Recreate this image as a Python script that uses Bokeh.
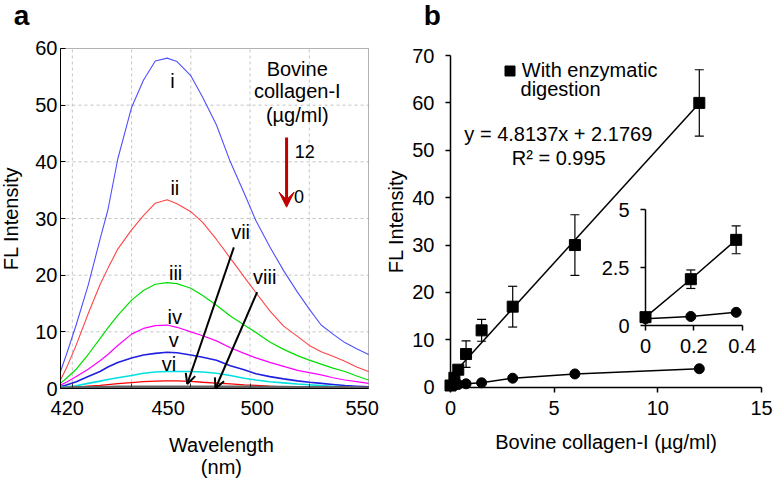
from bokeh.plotting import figure
from bokeh.layouts import row
from bokeh.models import (Range1d, FixedTicker, LinearAxis, Label, Arrow, OpenHead, VeeHead,
                          Whisker, TeeHead, ColumnDataSource, Legend, LegendItem, BoxAnnotation)
from bokeh.core.properties import value
from bokeh.embed import file_html
from bokeh.resources import INLINE

FONT = "Liberation Sans"

# ---------------- Panel a data (fluorescence spectra) ----------------
wavelength_nm = [394, 397, 402, 408, 414, 418, 423, 430, 436, 442, 448, 453, 460, 466,
                 473, 480, 487, 493, 500, 507, 514, 520, 526, 532, 538, 544, 550]
spectrum_i = [3.0, 6.0, 11.3, 18.2, 26.3, 31.5, 40.5, 49.6, 54.4, 57.8, 58.3, 57.7, 55.2, 51.4,
              46.5, 40.0, 34.5, 29.6, 25.0, 20.8, 17.0, 14.0, 11.2, 9.6, 8.1, 7.0, 6.0]
spectrum_ii = [1.5, 3.6, 7.7, 13.2, 18.3, 21.2, 24.6, 28.0, 30.5, 32.7, 33.3, 32.6, 31.2, 29.3,
               26.3, 23.0, 19.7, 16.9, 13.7, 11.0, 9.2, 7.6, 6.5, 5.7, 4.8, 3.8, 3.0]
spectrum_iii = [0.9, 1.8, 3.4, 6.0, 8.8, 10.7, 12.9, 15.6, 17.3, 18.4, 18.7, 18.5, 17.7, 16.4,
                14.7, 12.8, 11.2, 9.9, 8.2, 6.9, 5.8, 5.0, 4.3, 3.6, 3.0, 2.2, 1.5]
spectrum_iv = [0.6, 1.1, 2.1, 3.4, 4.9, 6.0, 7.6, 9.6, 10.6, 11.1, 11.2, 10.8, 10.0, 9.3,
               8.4, 7.2, 6.2, 5.4, 4.6, 3.9, 3.2, 2.8, 2.4, 1.9, 1.5, 1.2, 0.9]
spectrum_v = [0.3, 0.6, 1.2, 2.1, 3.0, 3.8, 4.6, 5.4, 5.9, 6.2, 6.4, 6.3, 5.9, 5.5,
              5.0, 4.0, 3.3, 2.6, 2.1, 1.7, 1.35, 1.1, 0.9, 0.7, 0.5, 0.4, 0.3]
spectrum_vi = [0.2, 0.3, 0.5, 0.9, 1.3, 1.6, 1.9, 2.3, 2.7, 2.9, 3.0, 3.0, 3.0, 2.9,
               2.7, 2.3, 1.8, 1.5, 1.2, 1.0, 0.8, 0.65, 0.5, 0.4, 0.3, 0.2, 0.1]
spectrum_vii = [0.1, 0.15, 0.25, 0.4, 0.55, 0.7, 0.85, 1.05, 1.2, 1.3, 1.35, 1.35, 1.25, 1.1,
                0.95, 0.8, 0.65, 0.55, 0.4, 0.3, 0.2, 0.2, 0.2, 0.2, 0.2, 0.2, 0.2]
spectrum_viii = [0.15, 0.15, 0.2, 0.2, 0.25, 0.25, 0.3, 0.3, 0.3, 0.3, 0.3, 0.3, 0.3, 0.3,
                 0.3, 0.3, 0.3, 0.25, 0.25, 0.25, 0.2, 0.2, 0.2, 0.2, 0.2, 0.15, 0.15]
spectra = [spectrum_i, spectrum_ii, spectrum_iii, spectrum_iv,
           spectrum_v, spectrum_vi, spectrum_vii, spectrum_viii]
spectrum_names = ["i", "ii", "iii", "iv", "v", "vi", "vii", "viii"]
wavelength_tick_labels = ["420", "450", "500", "550"]
intensity_ticks_a = [0, 10, 20, 30, 40, 50, 60]
concentration_range_labels = ["12", "0"]

# ---------------- Panel b data (calibration) ----------------
collagen_conc = [0, 0.1875, 0.375, 0.75, 1.5, 3, 6, 12]
fl_with_digestion = [0.36, 2.0, 3.7, 7.0, 12.0, 17.0, 30.0, 60.0]
fl_with_digestion_err = [0.1, 0.4, 0.6, 2.8, 2.3, 4.3, 6.4, 7.0]
fl_without_digestion = [0.29, 0.39, 0.57, 0.72, 0.93, 1.9, 2.8, 3.9]
fit_slope = 4.8137
fit_intercept = 2.1769
fit_r2 = 0.995
inset_points = 3
conc_ticks_b = [0, 5, 10, 15]
intensity_ticks_b = [0, 10, 20, 30, 40, 50, 60, 70]
inset_x_ticks = [0, 0.2, 0.4]
inset_y_ticks = [0, 2.5, 5]

# ---------------- styles / layout positions ----------------
spec_colors = ["#5050ff", "#ff4545", "#00dd00", "#ff00ff", "#2020e0", "#00e0e0", "#ff0000", "#606060"]
spec_widths = [1.1, 1.1, 1.2, 1.2, 1.6, 1.6, 1.3, 2.5]
tick_pos_a = [397.4, 448.5, 493.6, 546.8]
grid_pos_a = [400, 430, 460, 490, 520]
grid_val_a = [10, 20, 30, 40, 50]
num_label_pos = [(450.7, 52.7), (451.9, 33.9), (452.3, 18.9), (451.9, 11.2),
                 (451.4, 7.1), (448.9, 2.9), (485.2, 26.1), (497.4, 18.2)]
TXT = 20
XA0, XA1, YA0, YA1 = 394, 550, 0, 60   # panel a plot box (data units)
PPU_A = 5.6667   # px per intensity unit, panel a
PPU_B = 4.7386   # px per intensity unit, panel b


def txt_label(p, ppu, x, y, text, align="left", size=TXT, bold=False, **kw):
    # y is the text baseline; compensate Bokeh's baseline placement
    yy = y + 0.42 * size / ppu
    p.add_layout(Label(x=x, y=yy, text=text, text_font=FONT, text_font_size=f"{size}px",
                       text_font_style="bold" if bold else "normal", text_align=align,
                       text_baseline="alphabetic", text_color="black", **kw))


def style_axis(ax, standoff, tick_out=5, tick_in=0):
    ax.major_tick_in = tick_in
    ax.major_tick_out = tick_out
    ax.minor_tick_line_color = None
    ax.major_label_standoff = standoff
    ax.major_label_text_font = FONT
    ax.major_label_text_font_size = f"{TXT}px"
    ax.major_label_text_color = "black"
    ax.axis_line_color = "black"
    ax.axis_label_text_font = FONT
    ax.axis_label_text_font_size = f"{TXT}px"
    ax.axis_label_text_font_style = "normal"
    ax.axis_label_text_color = "black"


# ================= Panel a =================
pa = figure(width=386, height=484, output_backend="svg", toolbar_location=None,
            x_range=Range1d(363.61, 559.11), y_range=Range1d(-16.94, 68.47),
            min_border=0)
pa.outline_line_color = None
pa.xgrid.visible = False
pa.ygrid.visible = False

# dashed grid inside the plot box
pa.segment(x0=grid_pos_a, y0=[YA0] * len(grid_pos_a), x1=grid_pos_a, y1=[YA1] * len(grid_pos_a),
           line_color="#c4c4c4", line_dash="3 3", line_width=1)
pa.segment(x0=[XA0] * len(grid_val_a), y0=grid_val_a, x1=[XA1] * len(grid_val_a), y1=grid_val_a,
           line_color="#c4c4c4", line_dash="3 3", line_width=1)

for ys, c, w in zip(spectra, spec_colors, spec_widths):
    pa.line(wavelength_nm, ys, line_color=c, line_width=w)

pa.add_layout(BoxAnnotation(left=XA0, right=XA1, bottom=YA0, top=YA1, fill_alpha=0,
                            line_color="black", line_width=1))

xa = pa.xaxis[0]
xa.fixed_location = YA0
xa.bounds = (XA0, XA1)
xa.ticker = FixedTicker(ticks=tick_pos_a)
xa.major_label_overrides = {p: l for p, l in zip(tick_pos_a, wavelength_tick_labels)}
style_axis(xa, 12, tick_out=0)
xa.major_tick_line_color = None

tick_axis = LinearAxis(fixed_location=YA0, bounds=(XA0, XA1), ticker=FixedTicker(ticks=grid_pos_a),
                       major_tick_in=5, major_tick_out=0, major_tick_line_color="#333333",
                       minor_tick_line_color=None, axis_line_color=None,
                       major_label_text_color=None)
pa.add_layout(tick_axis, "below")

ya = pa.yaxis[0]
ya.fixed_location = XA0
ya.bounds = (YA0, YA1)
ya.ticker = FixedTicker(ticks=intensity_ticks_a)
style_axis(ya, 3, tick_out=0, tick_in=5)
ya.axis_label = "FL Intensity"
ya.axis_label_standoff = 10

for name, (lx, ly) in zip(spectrum_names, num_label_pos):
    txt_label(pa, PPU_A, lx, ly, name, align="center")

pa.add_layout(Arrow(x_start=481.8, y_start=24.9, x_end=458.2, y_end=0.8, line_color="black",
                    line_width=2, end=OpenHead(size=10, line_color="black", line_width=2)))
pa.add_layout(Arrow(x_start=493.6, y_start=17.0, x_end=472.5, y_end=0.0, line_color="black",
                    line_width=2, end=OpenHead(size=10, line_color="black", line_width=2)))

for t, yy in zip(["Bovine", "collagen-I", "(µg/ml)"], [54.9, 51.0, 46.8]):
    txt_label(pa, PPU_A, 513.9, yy, t, align="center")
pa.add_layout(Arrow(x_start=508.5, y_start=44.3, x_end=508.5, y_end=32.0, line_color="#c00000",
                    line_width=3, end=VeeHead(size=15, fill_color="#c00000", line_color="#c00000")))
txt_label(pa, PPU_A, 512.6, 40.5, concentration_range_labels[0], size=18)
txt_label(pa, PPU_A, 512.3, 32.5, concentration_range_labels[1], size=18)

txt_label(pa, PPU_A, 475.5, -11.5, "Wavelength", align="center")
txt_label(pa, PPU_A, 475.5, -15.3, "(nm)", align="center")
txt_label(pa, PPU_A, 370.3, 63.8, "a", size=28, bold=True)

# ================= Panel b =================
pb = figure(width=388, height=484, output_backend="svg", toolbar_location=None,
            x_range=Range1d(-3.087, 15.627), y_range=Range1d(-20.53, 81.61),
            min_border=0)
pb.outline_line_color = None
pb.xgrid.visible = False
pb.ygrid.visible = False
pb.extra_x_ranges = {"ix": Range1d(-1.0714, 0.5336)}
pb.extra_y_ranges = {"iy": Range1d(-6.868, 14.039)}

xb = pb.xaxis[0]
xb.fixed_location = 0
xb.bounds = (0, 15)
xb.ticker = FixedTicker(ticks=conc_ticks_b)
style_axis(xb, 9)
xb.axis_line_width = 1.5
xb.major_tick_line_width = 1.5
xb.axis_label = "Bovine collagen-I (µg/ml)"
xb.axis_label_standoff = 12

yb = pb.yaxis[0]
yb.fixed_location = 0
yb.bounds = (0, 70)
yb.ticker = FixedTicker(ticks=intensity_ticks_b)
style_axis(yb, 11)
yb.axis_line_width = 1.5
yb.major_tick_line_width = 1.5
yb.axis_label = "FL Intensity"
yb.axis_label_standoff = 2

# fit line (from the reported regression) and data
fit_x = [min(collagen_conc), max(collagen_conc)]
fit_y = [fit_slope * v + fit_intercept for v in fit_x]
pb.line(fit_x, fit_y, line_color="black", line_width=1.5)
pb.line(collagen_conc, fl_without_digestion, line_color="black", line_width=1.5)

err_src = ColumnDataSource(dict(
    x=collagen_conc,
    upper=[m + e for m, e in zip(fl_with_digestion, fl_with_digestion_err)],
    lower=[m - e for m, e in zip(fl_with_digestion, fl_with_digestion_err)]))
pb.add_layout(Whisker(base="x", upper="upper", lower="lower", source=err_src,
                      line_color="black", line_width=1.2,
                      upper_head=TeeHead(size=9, line_color="black", line_width=1.2),
                      lower_head=TeeHead(size=9, line_color="black", line_width=1.2)))
r_sq = pb.scatter(collagen_conc, fl_with_digestion, marker="square", size=11,
                  fill_color="black", line_color="black")
pb.scatter(collagen_conc, fl_without_digestion, marker="circle", size=10,
           fill_color="black", line_color="black")

legend = Legend(items=[LegendItem(label=value("With enzymatic"), renderers=[r_sq])],
                location=(110.8, 401.5), border_line_color=None, background_fill_alpha=0,
                padding=0, margin=0, spacing=0, glyph_width=25, glyph_height=25,
                label_height=25, label_standoff=0, label_text_font=FONT,
                label_text_font_size=f"{TXT}px", label_text_color="black")
pb.add_layout(legend)
txt_label(pb, PPU_B, 3.377, 61.2, "digestion")
txt_label(pb, PPU_B, 5.2, 51.7, f"y = {fit_slope}x + {fit_intercept}", align="center")
txt_label(pb, PPU_B, 5.22, 46.6, f"R² = {fit_r2}", align="center")
txt_label(pb, PPU_B, -1.288, 75.95, "b", size=28, bold=True)

# ---- inset (low concentrations) ----
ic = collagen_conc[:inset_points]
iw = fl_with_digestion[:inset_points]
iwe = fl_with_digestion_err[:inset_points]
io = fl_without_digestion[:inset_points]
pb.line(ic, iw, line_color="black", line_width=1.5, x_range_name="ix", y_range_name="iy")
pb.line(ic, io, line_color="black", line_width=1.5, x_range_name="ix", y_range_name="iy")
ierr = ColumnDataSource(dict(x=ic, upper=[m + e for m, e in zip(iw, iwe)],
                             lower=[m - e for m, e in zip(iw, iwe)]))
pb.add_layout(Whisker(base="x", upper="upper", lower="lower", source=ierr,
                      x_range_name="ix", y_range_name="iy",
                      line_color="black", line_width=1.2,
                      upper_head=TeeHead(size=9, line_color="black", line_width=1.2),
                      lower_head=TeeHead(size=9, line_color="black", line_width=1.2)))
pb.scatter(ic, iw, marker="square", size=11, fill_color="black", line_color="black",
           x_range_name="ix", y_range_name="iy")
pb.scatter(ic, io, marker="circle", size=10, fill_color="black", line_color="black",
           x_range_name="ix", y_range_name="iy")

iya = LinearAxis(x_range_name="ix", y_range_name="iy", fixed_location=0, bounds=(0, 5),
                 ticker=FixedTicker(ticks=inset_y_ticks),
                 major_label_overrides={t: (str(t) if t % 1 else str(int(t))) for t in inset_y_ticks})
style_axis(iya, 11)
iya.axis_line_width = 1.5
iya.major_tick_line_width = 1.5
pb.add_layout(iya, "left")
ixa = LinearAxis(x_range_name="ix", y_range_name="iy", fixed_location=0, bounds=(0, 0.4),
                 ticker=FixedTicker(ticks=inset_x_ticks),
                 major_label_overrides={t: (str(t) if t % 1 else str(int(t))) for t in inset_x_ticks})
style_axis(ixa, 8)
ixa.axis_line_width = 1.5
ixa.major_tick_line_width = 1.5
pb.add_layout(ixa, "below")

layout = row(pa, pb)
open("out.html", "w").write(file_html(layout, INLINE))
